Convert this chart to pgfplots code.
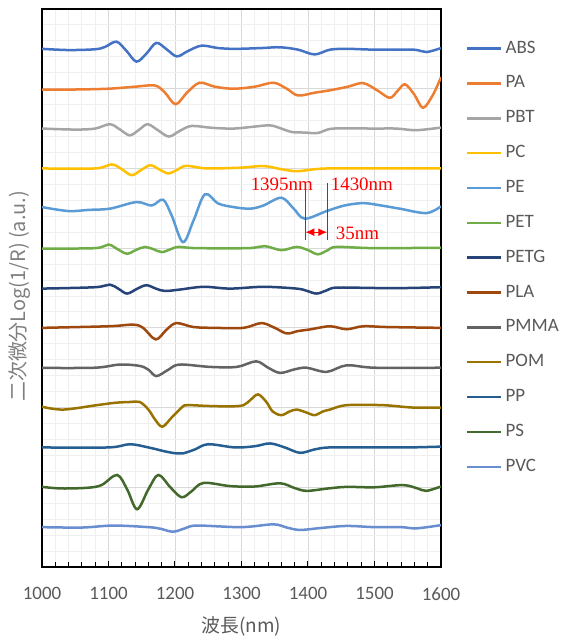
\documentclass[border=0pt]{standalone}
\usepackage{fontspec}
\setmainfont{Carlito}
\newfontfamily\cjk{Noto Sans CJK JP}
\newfontfamily\tms{Liberation Serif}
\usepackage{pgfplots}
\pgfplotsset{compat=1.18}
\usetikzlibrary{arrows.meta}
\definecolor{cABS}{HTML}{4472C4}
\definecolor{cPA}{HTML}{ED7D31}
\definecolor{cPBT}{HTML}{A5A5A5}
\definecolor{cPC}{HTML}{FFC000}
\definecolor{cPE}{HTML}{5B9BD5}
\definecolor{cPET}{HTML}{70AD47}
\definecolor{cPETG}{HTML}{264478}
\definecolor{cPLA}{HTML}{9E480E}
\definecolor{cPMMA}{HTML}{636363}
\definecolor{cPOM}{HTML}{997300}
\definecolor{cPP}{HTML}{255E91}
\definecolor{cPS}{HTML}{43682B}
\definecolor{cPVC}{HTML}{698ED0}
\definecolor{ctxt}{HTML}{595959}
\definecolor{cylab}{HTML}{7F7F7F}
\definecolor{cgmaj}{HTML}{D9D9D9}
\definecolor{cgmin}{HTML}{EFEFEF}
\definecolor{cred}{HTML}{FF0000}
\begin{document}
\begin{tikzpicture}
\path[use as bounding box] (-42bp,-69bp) rectangle (528bp,567bp);
\begin{axis}[
  at={(0,0)}, anchor=south west,
  scale only axis, width=399bp, height=558bp,
  xmin=1000, xmax=1600, ymin=0, ymax=14,
  xtick={1000,1100,...,1600}, minor x tick num=4,
  ytick={0,2,...,14}, minor y tick num=4,
  yticklabels={},
  ytick style={draw=none},
  grid=both,
  major grid style={draw=cgmaj, line width=0.9bp},
  minor grid style={draw=cgmin, line width=0.9bp},
  axis line style={black, line width=1.1bp},
  tick align=inside, xtick pos=left,
  major tick length=6bp, minor tick length=5bp,
  xtick style={black, line width=1bp},
  /pgf/number format/assume math mode=true,
  /pgf/number format/set thousands separator={},
  scaled x ticks=false,
  ticklabel style={font=\fontsize{19}{19}\selectfont, text=ctxt},
  xticklabel style={yshift=-17bp},
  xlabel={\cjk 波長(nm)},
  xlabel style={at={(axis description cs:0.5,0)}, anchor=center, yshift=-59.7bp, font=\fontsize{19}{19}\selectfont, text=ctxt},
  ylabel={\cjk 二次微分Log(1/R) (a.u.)},
  ylabel style={at={(axis description cs:-0.0551,0.485)}, anchor=center, rotate=0, font=\fontsize{20}{20}\selectfont, text=cylab},
  legend style={draw=none, fill=none, at={(1,1)}, anchor=north west, xshift=25bp, yshift=-30.9bp, inner sep=0pt, row sep=17.85bp, column sep=3bp, font=\fontsize{19}{19}\selectfont, text=ctxt, nodes={inner sep=0pt, text height=13bp, text depth=4bp}},
  legend cell align=left,
  legend image code/.code={\draw[#1] (0bp,0bp) -- (34bp,0bp);},
  every axis plot/.append style={line width=2.5bp, smooth, tension=0.55},
]
\addplot[cABS] coordinates {(1000,13.00) (1040,12.97) (1080,12.99) (1095,13.05) (1112,13.18) (1127,12.95) (1142,12.68) (1157,12.88) (1172,13.15) (1188,12.98) (1203,12.81) (1220,12.95) (1240,13.08) (1265,13.02) (1290,13.00) (1330,13.02) (1358,13.04) (1385,12.98) (1410,12.86) (1433,12.98) (1460,13.0) (1500,12.98) (1558,12.98) (1578,12.92) (1600,13.02)};
\addlegendentry{ABS}
\addplot[cPA] coordinates {(1000,11.975) (1050,11.98) (1100,12.0) (1140,12.05) (1170,12.08) (1185,11.9) (1201,11.61) (1218,11.9) (1237,12.15) (1260,12.05) (1288,12.0) (1320,12.05) (1348,12.15) (1368,12.0) (1385,11.83) (1410,11.9) (1433,11.96) (1460,12.05) (1483,12.14) (1505,11.95) (1523,11.77) (1535,11.95) (1546,12.11) (1560,11.85) (1573,11.52) (1588,11.85) (1600,12.29)};
\addlegendentry{PA}
\addplot[cPBT] coordinates {(1000,11.0) (1050,10.975) (1080,11.0) (1102,11.11) (1117,10.98) (1132,10.83) (1146,10.97) (1159,11.11) (1175,10.95) (1191,10.80) (1208,10.95) (1225,11.065) (1255,11.02) (1288,11.0) (1320,11.05) (1343,11.08) (1360,11.0) (1375,10.915) (1395,10.9) (1415,10.89) (1438,11.0) (1500,11.0) (1533,11.0) (1563,10.96) (1600,11.025)};
\addlegendentry{PBT}
\addplot[cPC] coordinates {(1000,10) (1080,10) (1105,10.1) (1120,9.98) (1135,9.83) (1150,9.97) (1163,10.08) (1177,9.97) (1190,9.875) (1204,9.97) (1217,10.065) (1248,10.0) (1300,10.02) (1333,10.06) (1360,9.98) (1383,9.93) (1410,9.98) (1433,10.0) (1500,10.0) (1600,10.0)};
\addlegendentry{PC}
\addplot[cPE] coordinates {(1000,9.03) (1040,8.93) (1070,8.96) (1102,8.99) (1142,9.155) (1165,9.07) (1182,9.215) (1195,8.82) (1212,8.15) (1228,8.7) (1245,9.35) (1265,9.12) (1288,9.03) (1313,8.99) (1333,9.07) (1360,9.265) (1378,9.0) (1395,8.74) (1428,8.93) (1455,9.07) (1483,9.13) (1510,9.07) (1538,8.99) (1578,8.88) (1600,9.05)};
\addlegendentry{PE}
\addplot[cPET] coordinates {(1000,7.99) (1080,8.0) (1100,8.09) (1114,7.97) (1128,7.86) (1142,7.96) (1155,8.03) (1168,7.97) (1180,7.9) (1193,7.97) (1205,8.03) (1233,8.0) (1310,8.0) (1335,8.05) (1360,7.95) (1383,8.03) (1400,7.95) (1415,7.845) (1430,7.95) (1443,8.03) (1500,8.0) (1600,8.01)};
\addlegendentry{PET}
\addplot[cPETG] coordinates {(1000,6.985) (1080,7.02) (1102,7.085) (1115,6.98) (1128,6.86) (1143,6.98) (1157,7.07) (1172,6.98) (1185,6.925) (1207,6.96) (1243,7.03) (1283,6.985) (1333,7.03) (1383,6.985) (1398,6.93) (1413,6.86) (1428,6.94) (1443,7.01) (1500,7.0) (1550,7.0) (1600,7.02)};
\addlegendentry{PETG}
\addplot[cPLA] coordinates {(1000,6.0) (1100,6.04) (1137,6.08) (1152,6.0) (1171,5.71) (1187,5.95) (1202,6.12) (1228,6.02) (1260,6.0) (1303,6.0) (1330,6.12) (1350,6.0) (1368,5.86) (1385,5.92) (1403,5.96) (1433,6.04) (1458,5.965) (1483,6.04) (1520,6.02) (1600,6.0)};
\addlegendentry{PLA}
\addplot[cPMMA] coordinates {(1000,4.995) (1080,5.0) (1117,5.08) (1147,5.045) (1160,4.95) (1172,4.79) (1190,4.95) (1207,5.08) (1253,5.02) (1293,5.02) (1322,5.16) (1340,5.0) (1358,4.87) (1380,4.96) (1398,5.0) (1428,4.895) (1458,5.06) (1500,5.0) (1600,5.0)};
\addlegendentry{PMMA}
\addplot[cPOM] coordinates {(1000,4.02) (1032,3.95) (1082,4.06) (1110,4.12) (1132,4.14) (1147,4.14) (1160,3.95) (1170,3.7) (1181,3.52) (1195,3.75) (1210,4.0) (1218,4.06) (1250,4.04) (1283,4.03) (1303,4.06) (1314,4.2) (1325,4.33) (1337,4.15) (1347,3.9) (1360,3.81) (1372,3.9) (1383,3.95) (1397,3.88) (1410,3.81) (1422,3.9) (1433,3.95) (1458,4.06) (1513,4.06) (1558,4.0) (1600,4.0)};
\addlegendentry{POM}
\addplot[cPP] coordinates {(1000,3.0) (1100,3.0) (1132,3.08) (1160,3.0) (1185,2.9) (1202,2.85) (1212,2.85) (1230,2.95) (1250,3.08) (1290,3.0) (1320,3.03) (1343,3.1) (1365,3.0) (1388,2.865) (1410,2.95) (1433,3.0) (1500,3.0) (1550,3.0) (1600,3.02)};
\addlegendentry{PP}
\addplot[cPS] coordinates {(1000,2.01) (1030,1.97) (1070,1.99) (1090,2.06) (1113,2.31) (1128,1.95) (1143,1.45) (1160,1.95) (1175,2.31) (1193,2.0) (1210,1.75) (1225,1.9) (1243,2.11) (1283,2.03) (1320,2.02) (1358,2.1) (1380,1.98) (1398,1.91) (1430,1.97) (1458,2.01) (1500,2.0) (1543,2.055) (1565,1.97) (1578,1.91) (1600,2.02)};
\addlegendentry{PS}
\addplot[cPVC] coordinates {(1000,1.0) (1060,0.99) (1107,1.04) (1160,1.0) (1178,0.96) (1197,0.885) (1215,0.97) (1233,1.04) (1300,1.0) (1348,1.07) (1368,0.99) (1388,0.93) (1420,0.98) (1458,1.03) (1500,1.0) (1540,1.0) (1563,0.97) (1600,1.05)};
\addlegendentry{PVC}
\draw[cred, line width=1.3bp] (axis cs:1396,9.53) -- (axis cs:1396,8.195);
\draw[cred, line width=1.3bp] (axis cs:1429,9.63) -- (axis cs:1429,8.195);
\draw[cred, line width=1.3bp, {Latex[length=9bp,width=8bp]}-{Latex[length=9bp,width=8bp]}] (axis cs:1396,8.40) -- (axis cs:1429,8.40);
\node[text=cred, font=\tms\fontsize{19}{19}\selectfont, inner sep=0pt] at (axis cs:1360.6,9.60) {1395nm};
\node[text=cred, font=\tms\fontsize{19}{19}\selectfont, inner sep=0pt] at (axis cs:1481,9.60) {1430nm};
\node[text=cred, font=\tms\fontsize{19}{19}\selectfont, inner sep=0pt] at (axis cs:1474.5,8.36) {35nm};
\end{axis}
\end{tikzpicture}
\end{document}
